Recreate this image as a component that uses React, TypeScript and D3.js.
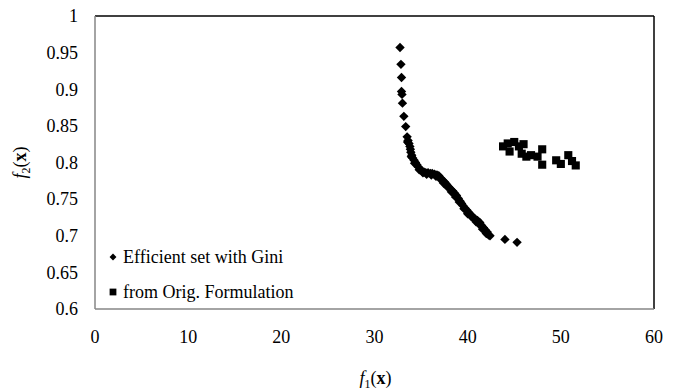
import React from "react";
import * as d3 from "d3";

const giniF1 = [32.74, 32.84, 32.9, 32.9, 32.95, 33.0, 33.15, 33.35, 33.5, 33.6, 33.7, 33.8, 33.85, 33.9, 34.0, 34.1, 34.25, 34.4, 34.55, 34.7, 34.9, 35.1, 35.3, 35.5, 35.75, 36.0, 36.2, 36.45, 36.7, 36.9, 37.1, 37.3, 37.55, 37.75, 37.95, 38.15, 38.4, 38.6, 38.8, 39.0, 39.2, 39.35, 39.5, 39.7, 39.9, 40.1, 40.3, 40.55, 40.8, 41.05, 41.3, 41.5, 41.7, 41.9, 42.1, 42.4, 44.0, 45.3,
  33.55, 33.95, 34.3, 34.8, 35.2, 35.6, 36.1, 36.6, 37.0, 37.4, 37.8, 38.25, 38.7, 39.1, 39.6, 40.0, 40.4, 40.9, 41.2, 41.6, 42.0, 42.25];
const giniF2 = [0.957, 0.934, 0.916, 0.897, 0.893, 0.881, 0.863, 0.849, 0.835, 0.83, 0.826, 0.822, 0.818, 0.814, 0.81, 0.806, 0.803, 0.8, 0.797, 0.794, 0.791, 0.788, 0.787, 0.786, 0.786, 0.785, 0.785, 0.784, 0.783, 0.782, 0.779, 0.776, 0.773, 0.77, 0.767, 0.764, 0.761, 0.758, 0.755, 0.751, 0.747, 0.744, 0.741, 0.738, 0.735, 0.732, 0.729, 0.726, 0.723, 0.721, 0.718, 0.714, 0.711, 0.708, 0.705, 0.7, 0.695, 0.691,
  0.828, 0.808, 0.799, 0.79, 0.786, 0.784, 0.783, 0.781, 0.778, 0.772, 0.767, 0.76, 0.753, 0.746, 0.737, 0.73, 0.726, 0.719, 0.716, 0.709, 0.703, 0.701];

const origF1 = [43.8, 44.3, 44.5, 45.0, 45.5, 45.8, 46.0, 46.3, 46.8, 47.5, 48.0, 48.0, 49.5, 50.0, 50.8, 51.2, 51.6];
const origF2 = [0.822, 0.826, 0.815, 0.828, 0.822, 0.812, 0.825, 0.808, 0.81, 0.808, 0.818, 0.797, 0.803, 0.798, 0.81, 0.802, 0.796];

const xTicks = [0, 10, 20, 30, 40, 50, 60];
const yTicks = [0.6, 0.65, 0.7, 0.75, 0.8, 0.85, 0.9, 0.95, 1];
const legendLabels = ["Efficient set with Gini", "from Orig. Formulation"];

const W = 680, H = 391;
const L = 95, R = 654, T = 16, B = 309;
const FONT = "'Times New Roman', 'Liberation Serif', serif";

export default function App() {
  const x = d3.scaleLinear().domain([0, 60]).range([L, R]);
  const y = d3.scaleLinear().domain([0.6, 1]).range([B, T]);
  const diamond = d3.symbol().type(d3.symbolSquare).size(44)();
  const square = d3.symbol().type(d3.symbolSquare).size(66)();
  const yFmt = (v: number) => String(+v.toFixed(2));

  return (
    <svg width={W} height={H} style={{ position: "absolute", left: 0, top: 0, background: "#fff" }} fontFamily={FONT}>
      <rect x={0} y={0} width={W} height={H} fill="#fff" />
      <line x1={L} y1={T} x2={R} y2={T} stroke="#000" strokeWidth={1.5} />
      <line x1={R} y1={T} x2={R} y2={B} stroke="#000" strokeWidth={1.5} />
      <line x1={L} y1={T} x2={L} y2={B} stroke="#868686" strokeWidth={1.5} />
      <line x1={L} y1={B} x2={R} y2={B} stroke="#868686" strokeWidth={1.5} />

      {yTicks.map((t) => (
        <text key={"y" + t} x={78} y={y(t)} dy="0.35em" textAnchor="end" fontSize={18} fill="#000">
          {yFmt(t)}
        </text>
      ))}
      {xTicks.map((t) => (
        <text key={"x" + t} x={x(t)} y={343} textAnchor="middle" fontSize={18} fill="#000">
          {t}
        </text>
      ))}

      <text x={(L + R) / 2 + 1} y={384} textAnchor="middle" fontSize={18} fill="#000">
        <tspan fontStyle="italic">f</tspan>
        <tspan fontSize={12} dy={4}>1</tspan>
        <tspan dy={-4}>(</tspan>
        <tspan fontWeight="bold">x</tspan>
        <tspan>)</tspan>
      </text>
      <text transform={`translate(26, ${(T + B) / 2}) rotate(-90)`} textAnchor="middle" fontSize={18} fill="#000">
        <tspan fontStyle="italic">f</tspan>
        <tspan fontSize={12} dy={4}>2</tspan>
        <tspan dy={-4}>(</tspan>
        <tspan fontWeight="bold">x</tspan>
        <tspan>)</tspan>
      </text>

      {giniF1.map((v, i) => (
        <path key={"g" + i} d={diamond} transform={`translate(${x(v)},${y(giniF2[i])}) rotate(45)`} fill="#000" />
      ))}
      {origF1.map((v, i) => (
        <path key={"o" + i} d={square} transform={`translate(${x(v)},${y(origF2[i])})`} fill="#000" />
      ))}

      <path d={d3.symbol().type(d3.symbolSquare).size(24)()} transform="translate(113,257) rotate(45)" fill="#000" />
      <text x={123} y={263} fontSize={18} fill="#000">{legendLabels[0]}</text>
      <path d={d3.symbol().type(d3.symbolSquare).size(46)()} transform="translate(113,292)" fill="#000" />
      <text x={123} y={298} fontSize={18} fill="#000">{legendLabels[1]}</text>
    </svg>
  );
}
